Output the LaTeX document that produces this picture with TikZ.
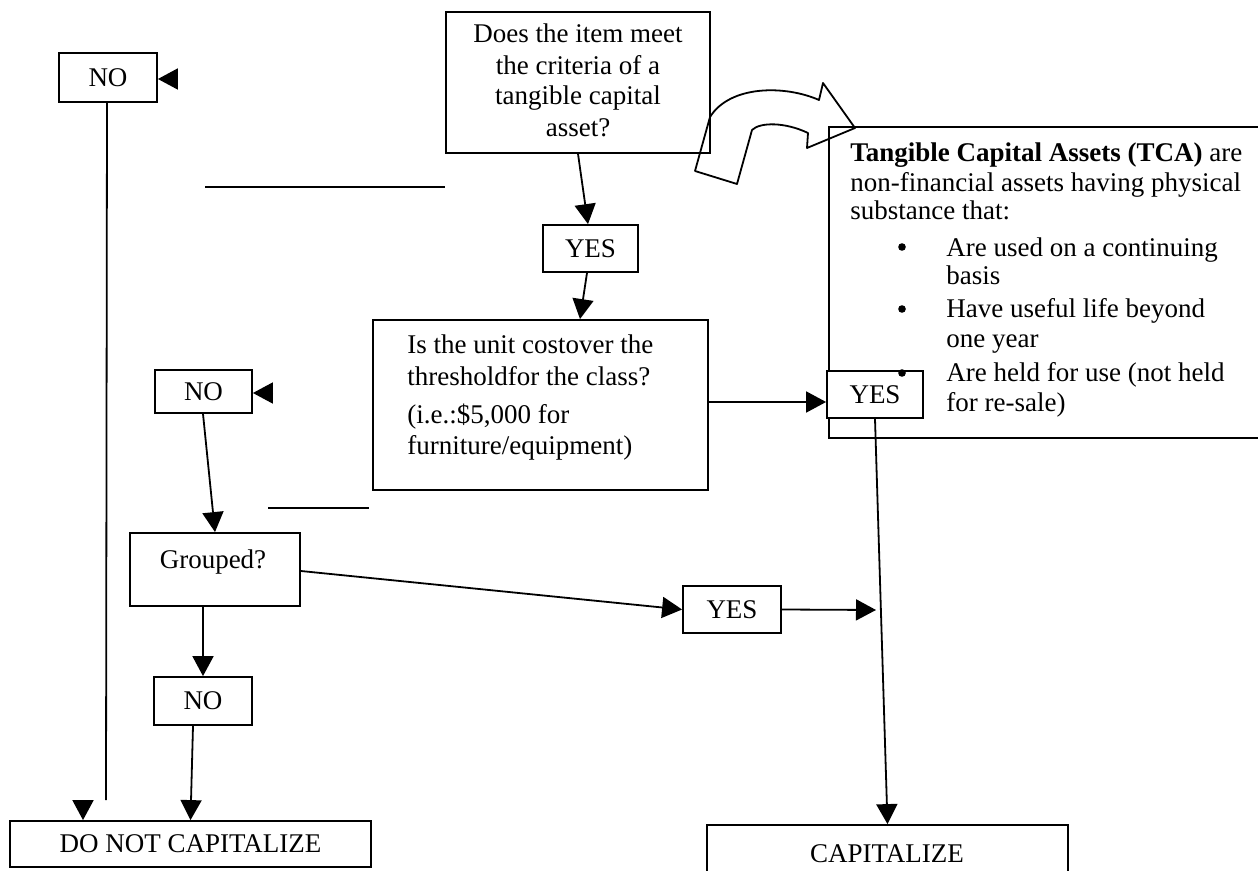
\documentclass[tikz,border=0pt]{standalone}
\usepackage{fontspec}
\setmainfont{Liberation Serif}
\usetikzlibrary{arrows.meta,calc}
\begin{document}
\begin{tikzpicture}[x=0.5pt,y=-0.5pt,
  box/.style={draw, line width=0.9pt, inner sep=0pt, font=\fontsize{13.5}{16}\selectfont},
  txt/.style={inner sep=0pt, font=\fontsize{13.5}{16}\selectfont},
  arr/.style={line width=0.9pt, -{Triangle[length=10pt,width=10.5pt]}},
  ln/.style={line width=0.9pt},
  bul/.style={circle, fill, inner sep=0pt, minimum size=3.8pt}]
\useasboundingbox (0,0) rectangle (1258,871);

% top NO
\node[box, minimum width=49pt, minimum height=24.5pt] (noTop) at (108,77.5) {NO};

% question box
\node[box, minimum width=132pt, minimum height=70.5pt] (q1) at (578,82.5) {};
\node[txt, anchor=base] (q1a) at (578,43) {Does the item meet};
\node[txt, anchor=base] (q1b) at (578,75) {the criteria of a};
\node[txt, anchor=base] (q1c) at (578,105) {tangible capital};
\node[txt, anchor=base] (q1d) at (578,137) {asset?};

% hollow curved arrow
\draw[ln, line join=round] (695,171) -- (737,184) -- (752,130)
  .. controls (760,122) and (785,122) .. (808,133) -- (807,148) -- (855,128)
  -- (823,83) -- (819,100) .. controls (785,85) and (730,85) .. (710,117) -- cycle;

% first YES
\node[box, minimum width=47.5pt, minimum height=23.5pt] (yes1) at (590.5,248.5) {YES};

% threshold box
\node[box, minimum width=167.5pt, minimum height=85pt] (thr) at (540.5,405) {};
\node[txt, anchor=base west] (thra) at (407,354) {Is the unit costover the};
\node[txt, anchor=base west] (thrb) at (407,386) {thresholdfor the class?};
\node[txt, anchor=base west] (thrc) at (407,423) {(i.e.:\$5,000 for};
\node[txt, anchor=base west] (thrd) at (407,455) {furniture/equipment)};

% TCA box
\node[box, minimum width=220.5pt, minimum height=155.5pt] (tca) at (1049.5,282.5) {};
\node[txt, anchor=base west] (tca1) at (850,162) {\textbf{Tangible Capital Assets (TCA)} are};
\node[txt, anchor=base west] (tca2) at (850,192) {non-financial assets having physical};
\node[txt, anchor=base west] (tca3) at (850,220) {substance that:};
\node[bul] (bul1) at (902,247) {};
\node[txt, anchor=base west] (b1a) at (946,257) {Are used on a continuing};
\node[txt, anchor=base west] (b1b) at (946,285) {basis};
\node[bul] (bul2) at (902,309) {};
\node[txt, anchor=base west] (b2a) at (946,318) {Have useful life beyond};
\node[txt, anchor=base west] (b2b) at (946,348) {one year};
\node[txt, anchor=base west] (b3a) at (946,382) {Are held for use (not held};
\node[txt, anchor=base west] (b3b) at (946,412) {for re-sale)};

% right YES (over the TCA box)
\node[box, fill=white, minimum width=48pt, minimum height=23.5pt] (yesR) at (875,394.5) {YES};
\node[bul] (bul3) at (902,373) {};

% middle NO, Grouped, lower YES / NO
\node[box, minimum width=48.5pt, minimum height=21.5pt] (noMid) at (203.5,391.5) {NO};
\node[box, minimum width=85pt, minimum height=36.5pt] (grp) at (215,569.5) {};
\node[txt, anchor=base] (grpt) at (213,568) {Grouped?};
\node[box, minimum width=49pt, minimum height=23.5pt] (yesL) at (732,609.5) {YES};
\node[box, minimum width=49pt, minimum height=24pt] (noBot) at (203,701) {NO};

% bottom boxes
\node[box, minimum width=180.5pt, minimum height=23pt] (dnc) at (190.5,844) {DO NOT CAPITALIZE};
\node[box, minimum width=180.5pt, minimum height=30pt] (cap) at (887.5,855) {};
\node[txt, anchor=base] (capt) at (887,862) {CAPITALIZE};

% helper coordinates
\coordinate (noTopArr) at (177,79);
\coordinate (noMidArr) at (273,393);
\coordinate (noTopEnd) at (106,800);
\coordinate (dncArr) at (83,800);
\coordinate (yesLend) at (876,610);
\coordinate (l1a) at (205,187);
\coordinate (l1b) at (445,187);
\coordinate (l2a) at (268,508);
\coordinate (l2b) at (369,508);

% connectors
\draw[arr] (noTopArr) -- (noTopArr -| noTop.east);
\draw[ln] ($(noTop.south)+(-1,0)$) -- (noTopEnd);
\draw[arr] (dncArr) -- (dncArr |- dnc.north);
\draw[ln] (l1a) -- (l1b);
\draw[ln] (l2a) -- (l2b);
\draw[arr] (q1.south) -- ($(yes1.north)+(-2.5,0)$);
\draw[arr] ($(yes1.south)+(-3.5,0)$) -- ($(thr.north)+(39.5,0)$);
\draw[arr] ($(thr.east)+(0,-3)$) -- ($(yesR.west)+(0,7.5)$);
\draw[arr] (yesR.south) -- (cap.north);
\draw[arr] (noMidArr) -- (noMidArr -| noMid.east);
\draw[arr] ($(noMid.south)+(-0.5,0)$) -- (grp.north);
\draw[arr] ($(grp.east)+(0,1.5)$) -- (yesL.west);
\draw[arr] (yesL.east) -- (yesLend);
\draw[arr] ($(grp.south)+(-12,0)$) -- (noBot.north);
\draw[arr] ($(noBot.south)+(-10,0)$) -- (dnc.north);
\end{tikzpicture}
\end{document}
